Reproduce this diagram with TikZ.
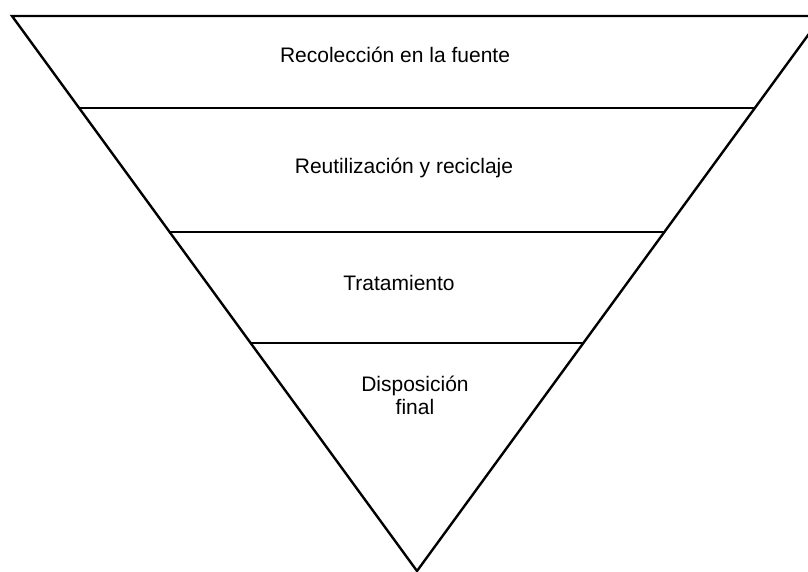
\documentclass[tikz,border=0pt]{standalone}
\usepackage{fontspec}
\setmainfont{Liberation Sans}
\tikzset{
    edge/.style={line width=2.4pt, line join=miter},
    layer/.style={line width=1.3pt},
    label/.style={anchor=base, align=center, font=\fontsize{21}{23}\selectfont}
}
\begin{document}
\begin{tikzpicture}[x=1pt,y=-1pt]
    \useasboundingbox (0,0) rectangle (808,571);
    \clip (0,0) rectangle (808,571);
    \coordinate (tl) at (12,16);
    \coordinate (tr) at (822,16);
    \coordinate (apex) at (417,571);
    \draw[edge] (tl) -- (tr) -- (apex) -- cycle;
    \draw[layer] (79,108) -- (755,108);
    \draw[layer] (170,232) -- (664,232);
    \draw[layer] (251,343) -- (583,343);
    \node[label] (recoleccion) at (395,62) {Recolección en la fuente};
    \node[label] (reutilizacion) at (404,173.5) {Reutilización y reciclaje};
    \node[label] (tratamiento) at (399,290.5) {Tratamiento};
    \node[label] (disposicion) at (415,414) {Disposición\\final};
\end{tikzpicture}
\end{document}
